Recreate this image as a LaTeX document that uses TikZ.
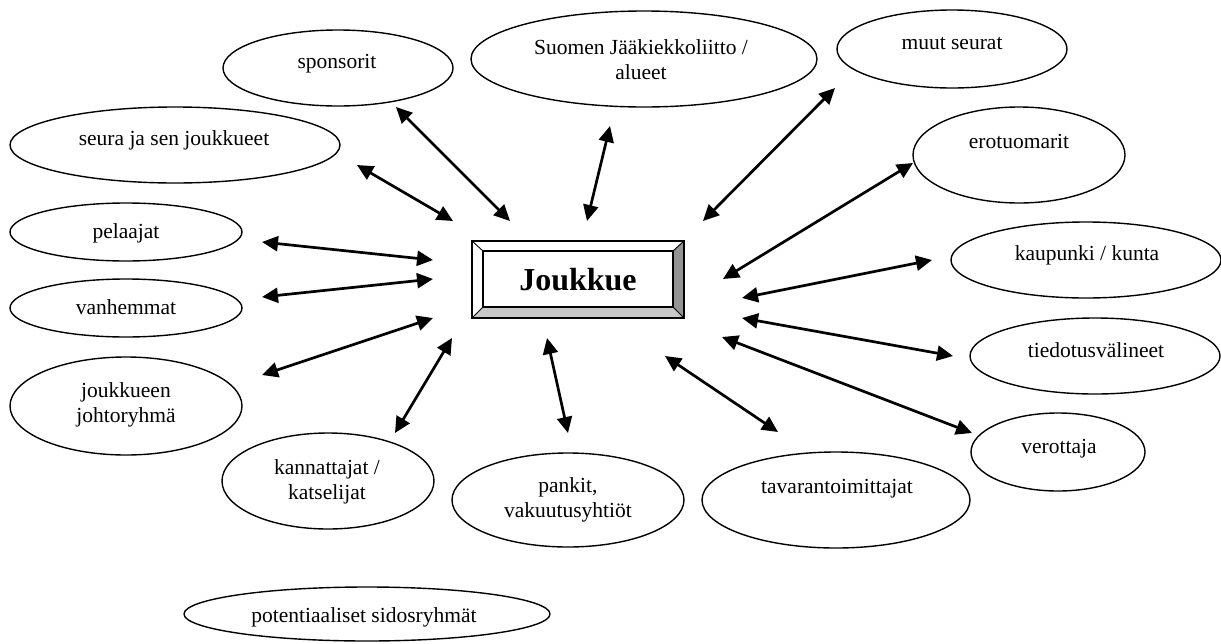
\documentclass[tikz,border=0pt]{standalone}
\usepackage{fontspec}
\setmainfont{Liberation Serif}
\usetikzlibrary{shapes.geometric,arrows.meta,calc}
\begin{document}
\begin{tikzpicture}[x=1pt,y=-1pt,
  ell/.style={ellipse, draw, line width=1.4pt, inner sep=0pt},
  lbl/.style={font=\fontsize{21.5}{25}\selectfont, align=center, inner sep=0pt},
  lbl1/.style={lbl, text height=14.5pt, text depth=4.5pt},
  link/.style={line width=2.7pt, {Triangle[length=16pt,width=15pt]}-{Triangle[length=16pt,width=15pt]}},
  bevelline/.style={line width=0.9pt}]
\useasboundingbox (0,0) rectangle (1221,643);

% ellipses
\node[ell, minimum width=230pt, minimum height=76pt] (sponsorit) at (338,68) {};
\node[ell, minimum width=346pt, minimum height=96pt] (suomen) at (644,59) {};
\node[ell, minimum width=230pt, minimum height=78pt] (muut) at (952,49) {};
\node[ell, minimum width=212pt, minimum height=96pt] (erotuomarit) at (1019,155) {};
\node[ell, minimum width=330pt, minimum height=76pt] (seura) at (175,145) {};
\node[ell, minimum width=232pt, minimum height=58pt] (pelaajat) at (126,232) {};
\node[ell, minimum width=232pt, minimum height=58pt] (vanhemmat) at (126,308) {};
\node[ell, minimum width=232pt, minimum height=98pt] (johto) at (126,406) {};
\node[ell, minimum width=212pt, minimum height=96pt] (kannattajat) at (328,481) {};
\node[ell, minimum width=232pt, minimum height=94pt] (pankit) at (568,500) {};
\node[ell, minimum width=268pt, minimum height=96pt] (tavar) at (836,500) {};
\node[ell, minimum width=270pt, minimum height=76pt] (kaupunki) at (1086,260) {};
\node[ell, minimum width=250pt, minimum height=76pt] (tiedotus) at (1095,356) {};
\node[ell, minimum width=174pt, minimum height=78pt] (verottaja) at (1058,452) {};
\node[ell, minimum width=366pt, minimum height=54pt] (potent) at (367,614) {};

% texts
\node[lbl1] (sponsorit-t) at (337,63) {sponsorit};
\node[lbl] (suomen-t) at (641,60) {Suomen Jääkiekkoliitto /\\alueet};
\node[lbl1] (muut-t) at (952,44) {muut seurat};
\node[lbl1] (erotuomarit-t) at (1019,143) {erotuomarit};
\node[lbl1] (seura-t) at (174,140) {seura ja sen joukkueet};
\node[lbl1] (pelaajat-t) at (126,233) {pelaajat};
\node[lbl1] (vanhemmat-t) at (126,309) {vanhemmat};
\node[lbl] (johto-t) at (126,405) {joukkueen\\johtoryhmä};
\node[lbl] (kannattajat-t) at (327,482) {kannattajat /\\katselijat};
\node[lbl] (pankit-t) at (568,500) {pankit,\\vakuutusyhtiöt};
\node[lbl1] (tavar-t) at (837,488) {tavarantoimittajat};
\node[lbl1] (kaupunki-t) at (1087,255) {kaupunki / kunta};
\node[lbl1] (tiedotus-t) at (1096,352) {tiedotusvälineet};
\node[lbl1] (verottaja-t) at (1059,448) {verottaja};
\node[lbl1] (potent-t) at (364,617) {potentiaaliset sidosryhmät};

% central box
\node[inner sep=0pt, minimum width=212pt, minimum height=77pt,
      font=\fontsize{32}{38}\selectfont\bfseries] (box) at (578,279.5) {Joukkue};
\coordinate (inw) at ($(box.north west)+(11,10)$);
\coordinate (ine) at ($(box.north east)+(-11,10)$);
\coordinate (isw) at ($(box.south west)+(11,-11)$);
\coordinate (ise) at ($(box.south east)+(-11,-11)$);
\fill[black!22] (box.south west) -- (box.south east) -- (ise) -- (isw) -- cycle;
\fill[black!42] (box.south east) -- (box.north east) -- (ine) -- (ise) -- cycle;
\draw[bevelline] (box.north west) -- (inw) (box.north east) -- (ine)
                 (box.south west) -- (isw) (box.south east) -- (ise);
\draw[line width=1.6pt] (inw) rectangle (ise);
\draw[line width=1.8pt] (box.north west) rectangle (box.south east);

% connector end points
\coordinate (a1) at (357,165);  \coordinate (b1) at (453,221);
\coordinate (a2) at (396,107);  \coordinate (b2) at (510,221);
\coordinate (a3) at (610,126);  \coordinate (b3) at (587,221);
\coordinate (a4) at (835,88);   \coordinate (b4) at (703,221);
\coordinate (a5) at (913,163);  \coordinate (b5) at (723,279);
\coordinate (a6) at (932,260);  \coordinate (b6) at (742,298);
\coordinate (a7) at (953,356);  \coordinate (b7) at (742,318);
\coordinate (a8) at (972,433);  \coordinate (b8) at (722,337);
\coordinate (a9) at (778,432);  \coordinate (b9) at (665,356);
\coordinate (a10) at (568,433); \coordinate (b10) at (547,338);
\coordinate (a11) at (395,433); \coordinate (b11) at (452,338);
\coordinate (a12) at (262,375); \coordinate (b12) at (433,318);
\coordinate (a13) at (262,297); \coordinate (b13) at (433,279);
\coordinate (a14) at (262,242); \coordinate (b14) at (433,260);

\foreach \i in {1,...,14} { \draw[link] (a\i) -- (b\i); }
\end{tikzpicture}
\end{document}
